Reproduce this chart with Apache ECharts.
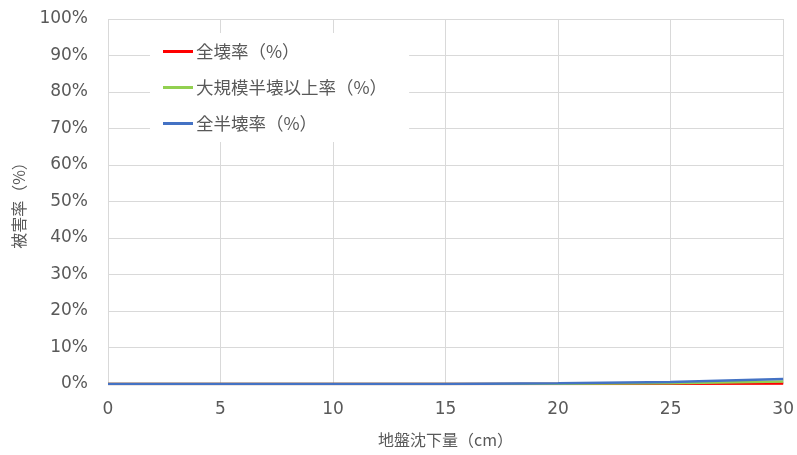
<!DOCTYPE html>
<html>
<head>
<meta charset="utf-8">
<script src="https://cdn.jsdelivr.net/npm/echarts@6/dist/echarts.min.js"></script>
<style>
  html, body { margin: 0; padding: 0; background: #fff; }
  #chart { width: 797px; height: 455px; }
</style>
</head>
<body>
<div id="chart"></div>
<script>
// Ground subsidence (cm) and damage rates (%)
const subsidence = [0, 5, 10, 15, 20, 25, 30];
const totalCollapse = [0, 0, 0, 0, 0.02, 0.05, 0.15];
const largeScaleHalfOrMore = [0, 0, 0, 0, 0.05, 0.2, 0.7];
const totalHalfCollapse = [0, 0, 0, 0.02, 0.2, 0.55, 1.4];
const seriesNames = ['全壊率（%）', '大規模半壊以上率（%）', '全半壊率（%）'];
const seriesColors = ['#ff0000', '#92d050', '#4472c4'];

const font = "'DejaVu Sans', 'Noto Sans CJK JP', sans-serif";
const cjkFont = "'Noto Sans CJK JP', 'DejaVu Sans', sans-serif";
const textColor = '#595959';
const gridColor = '#d9d9d9';

const pair = vals => subsidence.map((x, i) => [x, vals[i]]);
const allValues = [totalCollapse, largeScaleHalfOrMore, totalHalfCollapse];

const chart = echarts.init(document.getElementById('chart'), null, { renderer: 'canvas' });
chart.setOption({
  animation: false,
  grid: { left: 108, right: 13, top: 19, bottom: 71, containLabel: false },
  legend: {
    orient: 'vertical',
    left: 150,
    top: 33,
    padding: [8, 22, 8, 13],
    backgroundColor: '#ffffff',
    itemWidth: 30,
    itemHeight: 3,
    itemGap: 15,
    icon: 'rect',
    textStyle: { fontFamily: cjkFont, fontSize: 17.5, color: textColor, lineHeight: 21, padding: [0, 0, 0, -2] },
    data: seriesNames
  },
  xAxis: {
    type: 'value',
    min: 0, max: 30, interval: 5,
    name: '地盤沈下量（cm）',
    nameLocation: 'middle',
    nameGap: 48,
    nameTextStyle: { fontFamily: cjkFont, fontSize: 16, color: textColor },
    axisLine: { show: false },
    axisTick: { show: false },
    axisLabel: { fontFamily: font, fontSize: 17, color: textColor, margin: 17 },
    splitLine: { show: true, lineStyle: { color: gridColor, width: 1 } }
  },
  yAxis: {
    type: 'value',
    min: 0, max: 100, interval: 10,
    name: '被害率（%）',
    nameLocation: 'middle',
    nameGap: 81,
    nameRotate: 90,
    nameTextStyle: { fontFamily: cjkFont, fontSize: 16, color: textColor },
    axisLine: { show: false },
    axisTick: { show: false },
    axisLabel: { fontFamily: font, fontSize: 17, color: textColor, margin: 20, formatter: '{value}%' },
    splitLine: { show: true, lineStyle: { color: gridColor, width: 1 } }
  },
  series: seriesNames.map((name, i) => ({
    name,
    type: 'line',
    data: pair(allValues[i]),
    symbol: 'none',
    lineStyle: { color: seriesColors[i], width: 2.5 },
    itemStyle: { color: seriesColors[i] },
    z: 2 + i
  }))
});
</script>
</body>
</html>
